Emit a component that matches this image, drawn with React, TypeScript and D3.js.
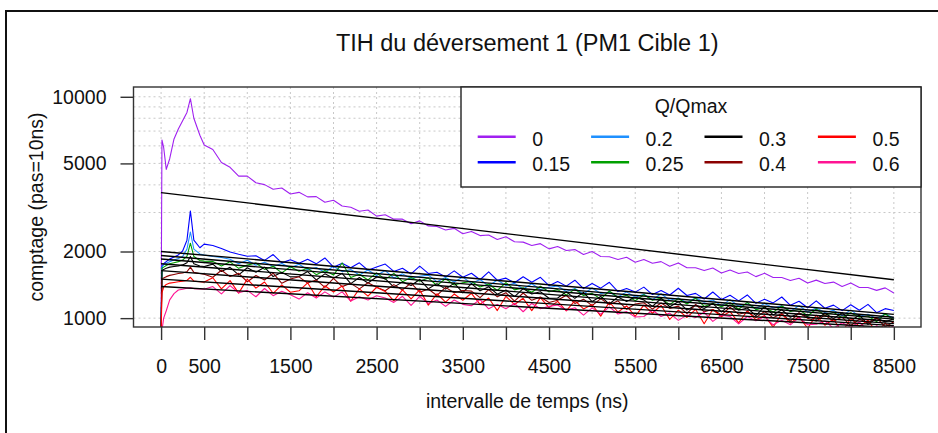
import React, { useEffect, useRef } from 'react';
import * as d3 from 'd3';

const W = 938;
const H = 433;

// time bins (ns): fine steps around the early peak, then every 100 ns
const times = [0, 10, 30, 60, 100, 150, 200, 250, 300, 340, 380, 450, 500, ...d3.range(600, 8501, 100)];

const qLabels = ['0', '0.15', '0.2', '0.25', '0.3', '0.4', '0.5', '0.6'];
const qColors = ['#a020f0', '#0000ff', '#1e90ff', '#00a000', '#000000', '#8b0000', '#ff0000', '#ff1493'];

const q0 = [
  900, 6380, 5900, 4700, 5250, 6450, 7150, 7800, 8500, 9800, 8000, 6700, 6050,
  5780, 5050, 4800, 4380, 4380, 4090, 4010, 3820, 3870, 3640,
  3700, 3530, 3540, 3340, 3410, 3210, 3170, 3040, 3080, 2890,
  2930, 2800, 2800, 2670, 2750, 2610, 2595, 2500, 2545, 2405,
  2465, 2360, 2375, 2265, 2330, 2215, 2205, 2130, 2170, 2055,
  2105, 2020, 2040, 1940, 2000, 1900, 1895, 1840, 1885, 1790,
  1840, 1770, 1800, 1715, 1775, 1690, 1690, 1640, 1685, 1600,
  1650, 1590, 1615, 1540, 1595, 1525, 1525, 1480, 1515, 1440,
  1485, 1435, 1455, 1390, 1440, 1375, 1375, 1335, 1370, 1300,
];
const q015 = [
  880, 1720, 1760, 1800, 1850, 1890, 1930, 2010, 2250, 3050, 2250, 2080, 2160,
  2130, 2065, 1990, 1945, 1905, 1913, 1823, 1938, 1777, 1837,
  1769, 1845, 1759, 1870, 1698, 1772, 1690, 1778, 1646, 1701,
  1755, 1626, 1679, 1584, 1718, 1592, 1612, 1536, 1635, 1530,
  1595, 1491, 1617, 1483, 1516, 1445, 1538, 1452, 1529, 1402,
  1463, 1395, 1484, 1360, 1433, 1366, 1452, 1318, 1362, 1311,
  1381, 1278, 1334, 1272, 1365, 1265, 1294, 1221, 1313, 1215,
  1268, 1197, 1273, 1167, 1217, 1172, 1246, 1143, 1192, 1114,
  1197, 1108, 1145, 1081, 1150, 1086, 1154, 1058, 1104, 1082,
];
const q02 = [
  870, 1700, 1740, 1770, 1800, 1830, 1860, 1900, 2050, 2450, 2050, 1950, 1930,
  1900, 1880, 1845, 1760, 1825, 1735, 1790, 1710, 1765, 1690,
  1752, 1654, 1693, 1613, 1716, 1622, 1659, 1565, 1649, 1557,
  1640, 1518, 1585, 1511, 1545, 1565, 1462, 1526, 1455, 1533,
  1433, 1495, 1397, 1486, 1405, 1436, 1355, 1429, 1348, 1380,
  1397, 1319, 1362, 1285, 1368, 1292, 1309, 1247, 1314, 1242,
  1282, 1211, 1288, 1204, 1232, 1174, 1237, 1180, 1207, 1139,
  1212, 1134, 1159, 1105, 1165, 1111, 1136, 1072, 1141, 1067,
  1112, 1061, 1085, 1024, 1090, 1019, 1042, 994, 1048, 1000,
];
const q025 = [
  860, 1680, 1700, 1730, 1760, 1780, 1800, 1830, 1900, 2180, 1900, 1820, 1810,
  1805, 1722, 1796, 1679, 1736, 1774, 1660, 1715, 1602, 1707,
  1629, 1682, 1572, 1641, 1565, 1775, 1526, 1578, 1488, 1601,
  1497, 1593, 1461, 1525, 1469, 1517, 1404, 1509, 1412, 1444,
  1463, 1382, 1427, 1333, 1448, 1342, 1373, 1309, 1393, 1316,
  1345, 1271, 1352, 1265, 1294, 1221, 1326, 1240, 1269, 1198,
  1275, 1205, 1232, 1151, 1227, 1158, 1232, 1130, 1168, 1125,
  1173, 1097, 1178, 1092, 1117, 1065, 1134, 1071, 1095, 1023,
  1100, 1029, 1064, 1004, 1058, 1010, 1022, 965, 1047, 980,
];
const q03 = [
  850, 1640, 1660, 1680, 1700, 1710, 1720, 1740, 1780, 1900, 1760, 1720, 1710,
  1754, 1625, 1696, 1569, 1689, 1612, 1698, 1542, 1610, 1536,
  1541, 1623, 1488, 1585, 1513, 1593, 1432, 1526, 1441, 1534,
  1509, 1381, 1458, 1405, 1495, 1357, 1432, 1352, 1439, 1305,
  1433, 1328, 1386, 1283, 1340, 1252, 1360, 1286, 1316, 1230,
  1234, 1314, 1229, 1307, 1188, 1253, 1158, 1247, 1190, 1242,
  1209, 1130, 1227, 1126, 1187, 1087, 1147, 1105, 1165, 1068,
  1148, 1086, 1111, 1027, 1128, 1034, 1091, 1009, 1054, 1015,
  988, 1053, 995, 1058, 970, 1033, 937, 999, 962, 994,
];
const q04 = [
  840, 1500, 1520, 1540, 1560, 1575, 1590, 1600, 1620, 1700, 1610, 1590, 1580,
  1530, 1645, 1541, 1593, 1460, 1558, 1487, 1597, 1437, 1503,
  1537, 1440, 1488, 1378, 1512, 1388, 1436, 1356, 1445, 1380,
  1330, 1417, 1341, 1441, 1310, 1354, 1266, 1377, 1303, 1333,
  1324, 1238, 1346, 1248, 1303, 1194, 1299, 1204, 1245, 1176,
  1205, 1269, 1165, 1218, 1139, 1225, 1148, 1198, 1098, 1159,
  1174, 1099, 1171, 1107, 1133, 1049, 1152, 1068, 1094, 1033,
  1122, 1041, 1066, 1006, 1072, 1003, 1049, 970, 1055, 998,
  971, 1035, 968, 1011, 926, 988, 953, 1005, 913, 964,
];
const q05 = [
  830, 1300, 1380, 1420, 1440, 1450, 1460, 1470, 1480, 1530, 1470, 1460, 1455,
  1522, 1355, 1477, 1297, 1502, 1367, 1457, 1295, 1414, 1309,
  1329, 1444, 1247, 1401, 1312, 1398, 1192, 1355, 1257, 1379,
  1320, 1197, 1343, 1221, 1341, 1145, 1289, 1181, 1285, 1204,
  1295, 1155, 1233, 1082, 1255, 1152, 1229, 1081, 1238, 1116,
  1190, 1079, 1199, 1101, 1152, 1021, 1183, 1066, 1136, 1020,
  1146, 1052, 1143, 986, 1087, 1007, 1096, 943, 1094, 1015,
  1071, 952, 1080, 983, 1027, 911, 1046, 950, 1014, 901,
  1031, 929, 991, 861, 999, 918, 979, 860, 949, 879,
];
const q06 = [
  820, 880, 1000, 1080, 1210, 1290, 1340, 1350, 1365, 1370, 1360, 1355, 1350,
  1389, 1288, 1402, 1302, 1335, 1249, 1361, 1263, 1322, 1276,
  1219, 1302, 1232, 1314, 1244, 1314, 1194, 1250, 1207, 1263,
  1232, 1178, 1255, 1141, 1255, 1165, 1207, 1130, 1207, 1154,
  1137, 1212, 1102, 1154, 1103, 1165, 1069, 1165, 1103, 1130,
  1147, 1086, 1114, 1032, 1113, 1043, 1124, 1044, 1070, 1012,
  1018, 1085, 1017, 1054, 977, 1032, 1007, 1063, 967, 1032,
  1017, 942, 1017, 972, 1016, 933, 977, 933, 1005, 934,
  939, 971, 900, 953, 910, 961, 873, 924, 883, 923,
];

const series = [q0, q015, q02, q025, q03, q04, q05, q06];

// exponential fits (black lines): value at t = 0 and t = 8500
const fitStart = [3690, 2000, 1920, 1850, 1760, 1640, 1500, 1390];
const fitEnd = [1490, 1040, 1010, 990, 965, 945, 925, 905];
const fitT = [0, 8500];

const xTicks = d3.range(0, 8501, 500);
const xLabelled = [0, 500, 1500, 2500, 3500, 4500, 5500, 6500, 7500, 8500];
const yTicks = [1000, 2000, 5000, 10000];
const yGrid = d3.range(1000, 10001, 1000);

const FONT = "'Liberation Sans', Arial, Helvetica, sans-serif";

export default function App() {
  const svgRef = useRef<SVGSVGElement>(null);

  useEffect(() => {
    if (!svgRef.current) return;
    const svg = d3.select(svgRef.current);
    svg.selectAll('*').remove();

    const box = { left: 133.5, right: 921, top: 87, bottom: 327 };

    const x = d3.scaleLinear().domain([-320, 8815]).range([box.left, box.right]);
    const y = d3.scaleLog().domain([912, 11070]).range([box.bottom, box.top]);

    svg.append('rect').attr('width', W).attr('height', H).attr('fill', '#fff');

    // outer frame of the figure
    svg
      .append('rect')
      .attr('x', 6)
      .attr('y', 11)
      .attr('width', W)
      .attr('height', H)
      .attr('fill', 'none')
      .attr('stroke', '#111')
      .attr('stroke-width', 2);

    svg
      .append('text')
      .attr('x', (box.left + box.right) / 2)
      .attr('y', 51)
      .attr('text-anchor', 'middle')
      .attr('font-family', FONT)
      .attr('font-size', 23.5)
      .attr('fill', '#111')
      .text('TIH du déversement 1 (PM1 Cible 1)');

    // dotted grid
    const grid = svg
      .append('g')
      .attr('stroke', '#c8c8c8')
      .attr('stroke-width', 1)
      .attr('stroke-dasharray', '2,3');

    grid
      .selectAll('line.v')
      .data(xTicks)
      .join('line')
      .attr('class', 'v')
      .attr('x1', (d) => x(d))
      .attr('x2', (d) => x(d))
      .attr('y1', box.top)
      .attr('y2', box.bottom);

    grid
      .selectAll('line.h')
      .data(yGrid)
      .join('line')
      .attr('class', 'h')
      .attr('x1', box.left)
      .attr('x2', box.right)
      .attr('y1', (d) => y(d))
      .attr('y2', (d) => y(d));

    svg
      .append('defs')
      .append('clipPath')
      .attr('id', 'plot-clip')
      .append('rect')
      .attr('x', box.left)
      .attr('y', box.top)
      .attr('width', box.right - box.left)
      .attr('height', box.bottom - box.top);

    const plot = svg.append('g').attr('clip-path', 'url(#plot-clip)');

    const line = d3
      .line<number>()
      .x((_, i) => x(times[i]))
      .y((d) => y(d));

    series.forEach((s, i) => {
      plot
        .append('path')
        .attr('d', line(s))
        .attr('fill', 'none')
        .attr('stroke', qColors[i])
        .attr('stroke-width', 1.1)
        .attr('stroke-linejoin', 'round');
    });

    const fitLine = d3
      .line<number>()
      .x((_, i) => x(fitT[i]))
      .y((d) => y(d));

    fitStart.forEach((v, i) => {
      plot
        .append('path')
        .attr('d', fitLine([v, fitEnd[i]]))
        .attr('fill', 'none')
        .attr('stroke', '#000')
        .attr('stroke-width', 1.4);
    });

    // plot box
    svg
      .append('rect')
      .attr('x', box.left)
      .attr('y', box.top)
      .attr('width', box.right - box.left)
      .attr('height', box.bottom - box.top)
      .attr('fill', 'none')
      .attr('stroke', '#333')
      .attr('stroke-width', 1.4);

    // axes
    const xAxis = svg
      .append('g')
      .attr('transform', `translate(0,${box.bottom})`)
      .call(
        d3
          .axisBottom(x)
          .tickValues(xTicks)
          .tickSize(13)
          .tickPadding(19)
          .tickFormat((d) => (xLabelled.includes(d as number) ? String(d) : ''))
      );
    xAxis.select('.domain').remove();
    xAxis.selectAll('line').attr('stroke', '#333').attr('stroke-width', 1.4);
    xAxis
      .selectAll('text')
      .attr('font-family', FONT)
      .attr('font-size', 19.5)
      .attr('fill', '#111');

    const yAxis = svg
      .append('g')
      .attr('transform', `translate(${box.left},0)`)
      .call(
        d3
          .axisLeft(y)
          .tickValues(yTicks)
          .tickSize(13)
          .tickPadding(14)
          .tickFormat((d) => String(d))
      );
    yAxis.select('.domain').remove();
    yAxis.selectAll('line').attr('stroke', '#333').attr('stroke-width', 1.4);
    yAxis
      .selectAll('text')
      .attr('font-family', FONT)
      .attr('font-size', 19.5)
      .attr('fill', '#111');

    svg
      .append('text')
      .attr('x', (box.left + box.right) / 2)
      .attr('y', 408)
      .attr('text-anchor', 'middle')
      .attr('font-family', FONT)
      .attr('font-size', 19.5)
      .attr('fill', '#111')
      .text('intervalle de temps (ns)');

    svg
      .append('text')
      .attr('transform', `translate(43,${(box.top + box.bottom) / 2}) rotate(-90)`)
      .attr('text-anchor', 'middle')
      .attr('font-family', FONT)
      .attr('font-size', 19.5)
      .attr('fill', '#111')
      .text('comptage (pas=10ns)');

    // legend, top right
    const lg = { left: 461, top: 87, right: box.right, bottom: 187 };
    const legend = svg.append('g');
    legend
      .append('rect')
      .attr('x', lg.left)
      .attr('y', lg.top)
      .attr('width', lg.right - lg.left)
      .attr('height', lg.bottom - lg.top)
      .attr('fill', '#fff')
      .attr('stroke', '#222')
      .attr('stroke-width', 1.4);

    legend
      .append('text')
      .attr('x', (lg.left + lg.right) / 2)
      .attr('y', 113)
      .attr('text-anchor', 'middle')
      .attr('font-family', FONT)
      .attr('font-size', 19.5)
      .attr('fill', '#111')
      .text('Q/Qmax');

    const items = legend
      .selectAll('g.item')
      .data(qLabels)
      .join('g')
      .attr('class', 'item')
      .attr('transform', (_, i) => {
        const col = Math.floor(i / 2);
        const row = i % 2;
        return `translate(${477.7 + col * 113.4},${136.7 + row * 25.6})`;
      });

    items
      .append('line')
      .attr('x1', 0)
      .attr('x2', 38)
      .attr('y1', 0)
      .attr('y2', 0)
      .attr('stroke', (_, i) => qColors[i])
      .attr('stroke-width', 2.5);

    items
      .append('text')
      .attr('x', 54.5)
      .attr('y', 9)
      .attr('font-family', FONT)
      .attr('font-size', 19.5)
      .attr('fill', '#111')
      .text((d) => d);
  }, []);

  return (
    <svg
      ref={svgRef}
      width={W}
      height={H}
      style={{ position: 'absolute', left: 0, top: 0, display: 'block' }}
    />
  );
}
